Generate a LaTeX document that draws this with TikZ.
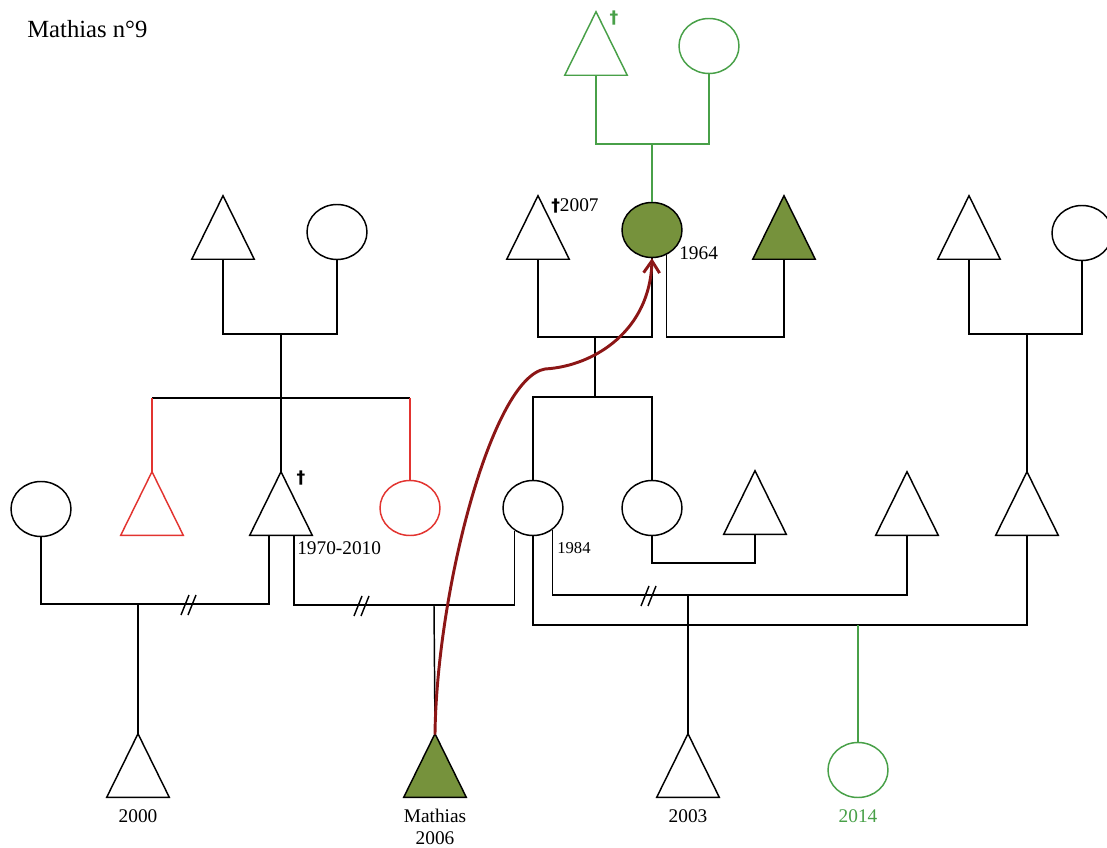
\documentclass[tikz,border=0pt]{standalone}
\usepackage{fontspec}
\setmainfont{Liberation Serif}
\newfontfamily\symfont{DejaVu Sans}
\usetikzlibrary{calc,arrows.meta,shapes.geometric}

\definecolor{lineGreen}{RGB}{72,160,72}
\definecolor{fillGreen}{RGB}{118,146,60}
\definecolor{lineRed}{RGB}{226,52,48}
\definecolor{arrowRed}{RGB}{140,22,22}

\tikzset{
  base/.style={line width=1.1pt, line join=miter},
  tri/.style={rectangle, draw=none, inner sep=0pt,
    minimum width=46.5pt, minimum height=47.25pt,
    append after command={\pgfextra{\draw[base,#1]
      (\tikzlastnode.north) -- (\tikzlastnode.south west)
      -- (\tikzlastnode.south east) -- cycle;}}},
  tri/.default={black},
  circ/.style={ellipse, base, draw, inner sep=0pt,
    minimum width=45pt, minimum height=41.25pt},
  lbl/.style={inner sep=0pt, font=\fontsize{14.5}{17}\selectfont},
  small/.style={inner sep=0pt, font=\fontsize{12.5}{15}\selectfont},
  dag/.style={inner sep=0pt, font=\symfont\bfseries\fontsize{13}{15}\selectfont},
  green/.style={base, draw=lineGreen},
  redl/.style={base, draw=lineRed},
  brk/.pic={\draw[base] (-8,10) -- (0,-10) (-1,10) -- (7,-10);},
}

\begin{document}
\begin{tikzpicture}[x=0.75pt, y=-0.75pt]
\useasboundingbox (0,0) rectangle (1107,848);

\node[anchor=base west, inner sep=0pt, font=\fontsize{18.5}{22}\selectfont] (title) at (27,38) {Mathias n°9};

% --- top generation (green)
\node[tri={draw=lineGreen}] (gt) at (596,43.5) {};
\node[circ, draw=lineGreen] (gc) at (709,46) {};
\node[dag, text=lineGreen] (gtd) at (614,18) {†};

% --- grandparents
\node[tri] (A) at (223,227.5) {};
\node[circ] (B) at (337,232) {};
\node[tri] (C) at (538,227.5) {};
\node[circ, fill=fillGreen] (D) at (652,230) {};
\node[tri={fill=fillGreen}] (E) at (784,227.5) {};
\node[tri] (H) at (969,227.5) {};
\node[circ] (I) at (1082,233) {};

\node[anchor=west, inner sep=0pt] (Cd) at (551,206) {\symfont\bfseries\fontsize{13}{15}\selectfont †\fontsize{14.5}{17}\rmfamily\mdseries\selectfont 2007};
\node[lbl, anchor=west] (Dl) at (679,253) {1964};

% --- parents generation
\node[circ] (J) at (41,509) {};
\node[tri={draw=lineRed}] (K) at (152,503.5) {};
\node[tri] (L) at (281,503.5) {};
\node[circ, draw=lineRed] (M) at (410,508) {};
\node[circ] (F) at (533,508) {};
\node[circ] (G) at (652,508) {};
\node[tri] (N) at (755,502.5) {};
\node[tri] (O) at (907,503.5) {};
\node[tri] (P) at (1027,503.5) {};

\node[dag] (Ld) at (301,478) {†};
\node[lbl, anchor=west] (Ll) at (297,548) {1970-2010};
\node[small, anchor=west] (Fl) at (557,548) {1984};

% --- children
\node[tri] (c1) at (138,765.5) {};
\node[tri={fill=fillGreen}] (mth) at (435,765.5) {};
\node[tri] (c3) at (688,765.5) {};
\node[circ, draw=lineGreen] (c4) at (858,770) {};

\node[lbl] (c1l) at (138,816) {2000};
\node[lbl] (mthl) at (435,816) {Mathias};
\node[lbl] (mthy) at (435,838) {2006};
\node[lbl] (c3l) at (688,816) {2003};
\node[lbl, text=lineGreen] (c4l) at (858,816) {2014};

% --- couple and descent coordinates
\coordinate (gm) at (652,144);
\coordinate (ab) at (281,334);
\coordinate (absib) at (281,398);
\coordinate (cd) at (595,337);
\coordinate (cdsib) at (595,397);
\coordinate (hi) at (1027,334);
\coordinate (jl) at (138,604);
\coordinate (lf) at (434,605);
\coordinate (fo) at (688,595);
\coordinate (fp) at (858,625);
\coordinate (gn) at (700,563);
\coordinate (bend) at (545,369);

% green branch
\draw[green] (gt.south) |- (gm) -| (gc.south);
\draw[green] (gm) -- (D.north);

% paternal side
\draw[base] (A.south) |- (ab) -| (B.south);
\draw[base] (ab) -- (L.north);
\draw[base] (absib -| K.north) -- (absib -| M.north);
\draw[redl] (absib -| K.north) -- (K.north);
\draw[redl] (absib -| M.north) -- (M.north);

% maternal side
\draw[base] (C.south) |- (cd) -| (D.south);
\draw[base] (cd) -- (cdsib);
\draw[base] (F.north) |- (cdsib) -| (G.north);
\draw[base] (D.-60) -- (D.-60 |- cd) -| (E.south);

% right grandparents
\draw[base] (H.south) |- (hi) -| (I.south);
\draw[base] (hi) -- (P.north);

% unions of the parents' generation
\draw[base] (J.south) |- (jl) -| ($(L.south)+(-12,0)$);
\draw[base] (jl) -- (c1.north);
\pic at (189,605) {brk};

\draw[base] ($(L.south)+(13,0)$) |- (lf) -| (F.-129);
\draw[base] (lf) -- (mth.north);
\pic at (362,606) {brk};

\draw[base] (F.-48) |- (fo) -| (O.south);
\draw[base] (fo) -- (c3.north);
\pic at (649,596) {brk};

\draw[base] (F.south) |- (fp) -| (P.south);
\draw[green] (fp) -- (fp |- c4.north);

\draw[base] (G.south) |- (gn) -| (N.south);

% red arrow
\draw[arrowRed, line width=2.2pt, line cap=round,
      -{Straight Barb[length=9pt,width=12pt]}]
  (mth.north) .. controls (437,590) and (492,378) .. (bend)
  .. controls (595,366) and (650,330) .. (D.south);
\end{tikzpicture}
\end{document}
